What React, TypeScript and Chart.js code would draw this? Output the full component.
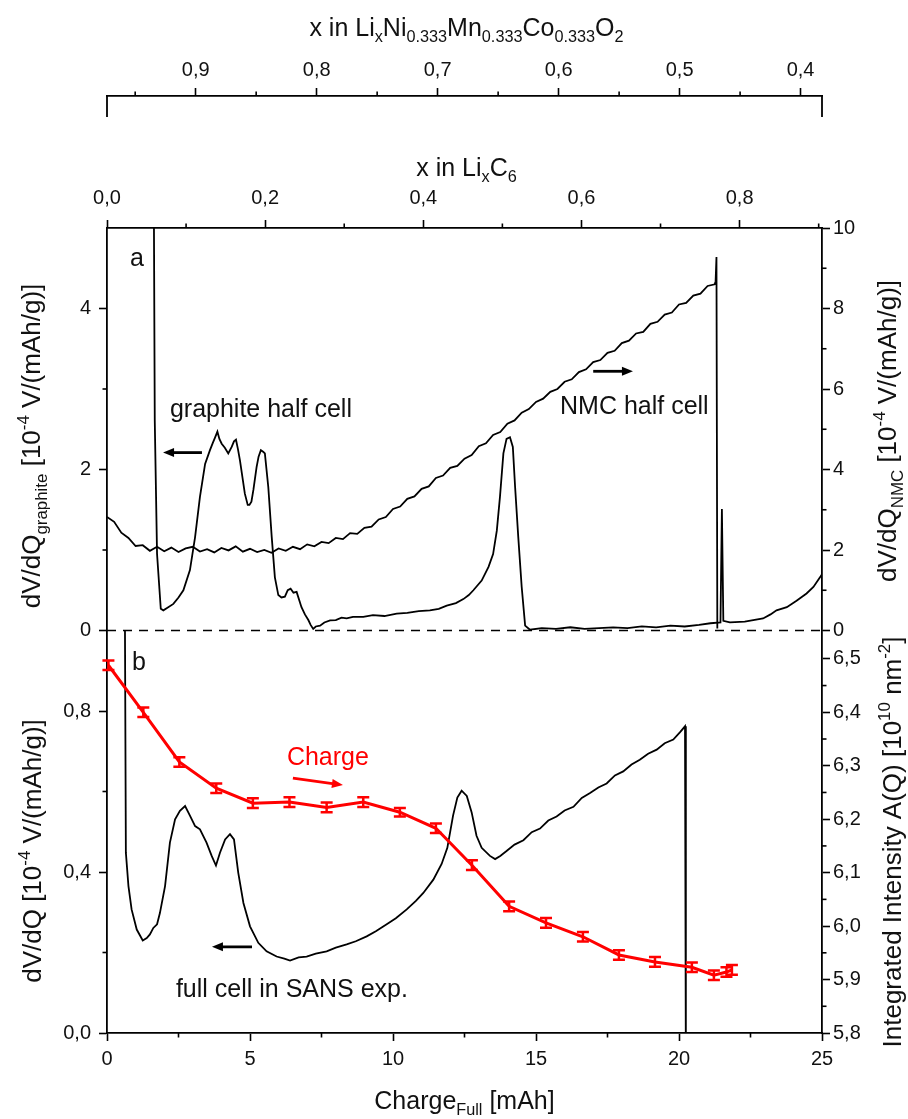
import React, { useEffect, useRef } from 'react';
import { Chart, registerables } from 'chart.js';

Chart.register(...registerables);

const FONT = '"Liberation Sans", Arial, Helvetica, sans-serif';

// ---------------- axis ticks ----------------
const chargeTicks = [0, 2.5, 5, 7.5, 10, 12.5, 15, 17.5, 20, 22.5, 25];
const chargeMajor = [0, 5, 10, 15, 20, 25];
const licTicks = [0, 0.1, 0.2, 0.3, 0.4, 0.5, 0.6, 0.7, 0.8, 0.9];
const licMajor = [0, 0.2, 0.4, 0.6, 0.8];
const nmcXTicks = [0.4, 0.45, 0.5, 0.55, 0.6, 0.65, 0.7, 0.75, 0.8, 0.85, 0.9, 0.95];
const nmcXMajor = [0.4, 0.5, 0.6, 0.7, 0.8, 0.9];
const graphiteTicks = [0, 1, 2, 3, 4];
const graphiteMajor = [0, 2, 4];
const nmcYTicks = [0, 1, 2, 3, 4, 5, 6, 7, 8, 9, 10];
const nmcYMajor = [0, 2, 4, 6, 8, 10];
const fullTicks = [0, 0.2, 0.4, 0.6, 0.8];
const fullMajor = [0, 0.4, 0.8];
const intTicks = [5.8, 5.85, 5.9, 5.95, 6.0, 6.05, 6.1, 6.15, 6.2, 6.25, 6.3, 6.35, 6.4, 6.45, 6.5];
const intMajor = [5.8, 5.9, 6.0, 6.1, 6.2, 6.3, 6.4, 6.5];

// ---------------- axis ranges ----------------
const chargeRange = [0, 25];
const licRange = [0, 0.9042];
const nmcXRange = [0.3823, 0.9733];
const graphiteRange = [0, 5];
const nmcYRange = [0, 10];
const fullRange = [0, 1];
const intRange = [5.8, 6.553];

// ---------------- series (charge [mAh], value) ----------------
const graphiteCurve: [number, number][] = [
  [1.56, 12], [1.67, 2.61], [1.75, 0.95], [1.88, 0.27], [1.97, 0.25], [2.1, 0.28], [2.32, 0.33],
  [2.5, 0.41], [2.67, 0.5], [2.9, 0.75], [3.08, 1.16], [3.25, 1.66], [3.43, 2.07], [3.6, 2.24],
  [3.7, 2.33], [3.78, 2.4], [3.86, 2.47], [3.93, 2.38], [4.01, 2.32], [4.12, 2.27], [4.24, 2.2],
  [4.36, 2.28], [4.44, 2.35], [4.51, 2.37], [4.58, 2.25], [4.65, 2.11], [4.82, 1.7], [4.92, 1.56],
  [4.98, 1.56], [5.05, 1.6], [5.12, 1.75], [5.23, 2.03], [5.3, 2.16], [5.38, 2.24], [5.46, 2.22],
  [5.52, 2.2], [5.64, 1.78], [5.76, 1.16], [5.87, 0.66], [5.99, 0.44], [6.1, 0.41], [6.22, 0.42],
  [6.32, 0.5], [6.42, 0.52], [6.52, 0.47], [6.63, 0.48], [6.8, 0.29], [6.92, 0.2], [7.04, 0.13],
  [7.12, 0.07], [7.21, 0.02], [7.3, 0.05], [7.45, 0.06], [7.6, 0.1], [7.8, 0.125], [8.0, 0.13],
  [8.2, 0.16], [8.38, 0.15], [8.6, 0.17], [8.96, 0.17], [9.3, 0.19], [9.7, 0.18], [10.13, 0.21],
  [10.5, 0.22], [10.9, 0.24], [11.29, 0.25], [11.6, 0.27], [11.88, 0.31], [12.2, 0.34],
  [12.46, 0.39], [12.65, 0.44], [12.81, 0.5], [13.1, 0.62], [13.34, 0.79], [13.5, 0.95],
  [13.63, 1.24], [13.74, 1.66], [13.86, 2.2], [13.97, 2.38], [14.09, 2.4], [14.19, 2.28],
  [14.27, 1.78], [14.38, 1.16], [14.5, 0.54], [14.62, 0.06], [14.79, 0.01], [15.2, 0.03],
  [15.7, 0.02], [16.2, 0.04], [16.7, 0.02], [17.2, 0.03], [17.7, 0.04], [18.2, 0.03], [18.7, 0.05],
  [19.2, 0.04], [19.7, 0.06], [20.2, 0.05], [20.7, 0.07], [21.1, 0.09], [21.45, 0.1], [21.5, 1.51],
  [21.55, 0.12], [21.78, 0.1], [22.3, 0.11], [22.94, 0.15], [23.2, 0.2], [23.41, 0.25],
  [23.77, 0.29], [24.11, 0.37], [24.46, 0.46], [24.7, 0.54], [24.93, 0.66], [25.0, 0.7],
];

const nmcCurve: [number, number][] = [
  [0, 2.82], [0.25, 2.7], [0.5, 2.43], [0.75, 2.3], [1.0, 2.1], [1.25, 2.12], [1.5, 1.98],
  [1.75, 2.08], [2.0, 1.97], [2.25, 2.06], [2.5, 1.95], [2.75, 2.04], [3.0, 2.08], [3.25, 1.96],
  [3.5, 2.02], [3.75, 1.94], [4.0, 2.05], [4.25, 1.99], [4.5, 2.09], [4.75, 1.96], [5.0, 2.03],
  [5.25, 1.95], [5.5, 2.0], [5.75, 1.93], [6.0, 2.04], [6.25, 1.98], [6.5, 2.08], [6.75, 2.02],
  [7.0, 2.14], [7.25, 2.09], [7.5, 2.2], [7.75, 2.17], [8.0, 2.3], [8.25, 2.27], [8.5, 2.42],
  [8.75, 2.4], [9.0, 2.55], [9.25, 2.58], [9.5, 2.76], [9.75, 2.82], [10.0, 3.02], [10.25, 3.08],
  [10.5, 3.27], [10.75, 3.33], [11.0, 3.52], [11.25, 3.58], [11.5, 3.79], [11.75, 3.85],
  [12.0, 4.04], [12.25, 4.09], [12.5, 4.27], [12.75, 4.36], [13.0, 4.58], [13.25, 4.65],
  [13.5, 4.86], [13.75, 4.93], [14.0, 5.14], [14.25, 5.22], [14.5, 5.41], [14.75, 5.5],
  [15.0, 5.68], [15.25, 5.76], [15.5, 5.93], [15.75, 6.0], [16.0, 6.18], [16.25, 6.24],
  [16.5, 6.42], [16.75, 6.49], [17.0, 6.67], [17.25, 6.72], [17.5, 6.9], [17.75, 6.95],
  [18.0, 7.14], [18.25, 7.2], [18.5, 7.38], [18.75, 7.42], [19.0, 7.62], [19.25, 7.67],
  [19.5, 7.85], [19.75, 7.9], [20.0, 8.1], [20.25, 8.14], [20.5, 8.32], [20.75, 8.37],
  [21.0, 8.56], [21.25, 8.6], [21.28, 8.68], [21.31, 9.28], [21.34, 0.05],
];

const fullCellCurve: [number, number][] = [
  [0.6, 1.5], [0.66, 0.448], [0.75, 0.365], [0.86, 0.307], [1.04, 0.257], [1.25, 0.23],
  [1.39, 0.236], [1.5, 0.245], [1.62, 0.261], [1.75, 0.27], [1.85, 0.298], [2.03, 0.365],
  [2.2, 0.473], [2.38, 0.531], [2.55, 0.552], [2.73, 0.564], [2.9, 0.54], [3.08, 0.514],
  [3.25, 0.506], [3.48, 0.473], [3.66, 0.44], [3.81, 0.416], [3.95, 0.448], [4.13, 0.481],
  [4.3, 0.494], [4.44, 0.481], [4.59, 0.398], [4.77, 0.323], [5.0, 0.265], [5.29, 0.224],
  [5.58, 0.203], [5.93, 0.19], [6.2, 0.185], [6.4, 0.18], [6.7, 0.188], [6.98, 0.19],
  [7.3, 0.197], [7.68, 0.203], [8.0, 0.212], [8.38, 0.22], [8.7, 0.228], [9.08, 0.24],
  [9.4, 0.253], [9.78, 0.27], [10.1, 0.285], [10.48, 0.307], [10.8, 0.328], [11.06, 0.348],
  [11.41, 0.381], [11.7, 0.42], [11.9, 0.46], [12.1, 0.54], [12.25, 0.585], [12.4, 0.602],
  [12.58, 0.589], [12.75, 0.548], [12.92, 0.49], [13.1, 0.46], [13.39, 0.44], [13.57, 0.432],
  [13.75, 0.44], [13.97, 0.452], [14.25, 0.468], [14.56, 0.479], [14.85, 0.499], [15.14, 0.508],
  [15.43, 0.528], [15.72, 0.538], [16.0, 0.553], [16.31, 0.562], [16.6, 0.584], [16.89, 0.596],
  [17.18, 0.61], [17.47, 0.62], [17.76, 0.64], [18.05, 0.65], [18.34, 0.667], [18.63, 0.679],
  [18.92, 0.694], [19.22, 0.704], [19.5, 0.72], [19.8, 0.729], [20.03, 0.747], [20.21, 0.762],
  [20.24, -0.1],
];

const intensityQ = [0.05, 1.27, 2.53, 3.82, 5.1, 6.38, 7.68, 8.96, 10.24, 11.5, 12.76, 14.06, 15.35, 16.64, 17.9, 19.16, 20.45, 21.22, 21.66, 21.85];
const intensityA = [6.488, 6.4, 6.307, 6.258, 6.23, 6.232, 6.222, 6.232, 6.213, 6.183, 6.114, 6.037, 6.006, 5.98, 5.946, 5.933, 5.923, 5.908, 5.914, 5.918];
const intensityErr = [0.009, 0.009, 0.009, 0.009, 0.009, 0.009, 0.009, 0.009, 0.008, 0.009, 0.009, 0.009, 0.009, 0.009, 0.009, 0.009, 0.009, 0.009, 0.009, 0.009];

const zeroLine: [number, number][] = [[0, 0], [25, 0]];

// ---------------- helpers ----------------
const isIn = (arr: number[], v: number) => arr.some((m) => Math.abs(m - v) < 1e-6);
const fmtInt = (v: number) => String(Math.round(v));
const fmtDec = (v: number) => v.toFixed(1).replace('.', ',');
const toXY = (arr: [number, number][]) => arr.map(([x, y]) => ({ x, y }));

type Seg = [string, number?]; // 0 normal, 1 subscript, 2 superscript

function drawRich(ctx: CanvasRenderingContext2D, segs: Seg[], x: number, y: number, size: number, rot: number, color: string, align: string) {
  ctx.save();
  ctx.translate(x, y);
  if (rot) ctx.rotate(rot);
  ctx.fillStyle = color;
  ctx.textBaseline = 'alphabetic';
  ctx.textAlign = 'left';
  const ws = segs.map(([t, k]) => {
    ctx.font = `${k ? size * 0.65 : size}px ${FONT}`;
    return ctx.measureText(t).width;
  });
  const total = ws.reduce((a, b) => a + b, 0);
  let cx = align === 'center' ? -total / 2 : align === 'right' ? -total : 0;
  const base = size * 0.36;
  segs.forEach(([t, k], i) => {
    ctx.font = `${k ? size * 0.65 : size}px ${FONT}`;
    const dy = k === 1 ? size * 0.24 : k === 2 ? -size * 0.42 : 0;
    ctx.fillText(t, cx, base + dy);
    cx += ws[i];
  });
  ctx.restore();
}

function drawArrow(ctx: CanvasRenderingContext2D, x1: number, y1: number, x2: number, y2: number, color: string) {
  const ang = Math.atan2(y2 - y1, x2 - x1);
  const hl = 11, hw = 4.5;
  ctx.save();
  ctx.strokeStyle = color;
  ctx.fillStyle = color;
  ctx.lineWidth = 2.8;
  ctx.beginPath();
  ctx.moveTo(x1, y1);
  ctx.lineTo(x2 - Math.cos(ang) * hl * 0.8, y2 - Math.sin(ang) * hl * 0.8);
  ctx.stroke();
  ctx.beginPath();
  ctx.moveTo(x2, y2);
  ctx.lineTo(x2 - Math.cos(ang) * hl + Math.sin(ang) * hw, y2 - Math.sin(ang) * hl - Math.cos(ang) * hw);
  ctx.lineTo(x2 - Math.cos(ang) * hl - Math.sin(ang) * hw, y2 - Math.sin(ang) * hl + Math.cos(ang) * hw);
  ctx.closePath();
  ctx.fill();
  ctx.restore();
}

const axisMeta: Record<string, { ticks: number[]; majors: number[] }> = {
  x: { ticks: chargeTicks, majors: chargeMajor },
  xL: { ticks: licTicks, majors: licMajor },
  xN: { ticks: nmcXTicks, majors: nmcXMajor },
  yG: { ticks: graphiteTicks, majors: graphiteMajor },
  yF: { ticks: fullTicks, majors: fullMajor },
  yN: { ticks: nmcYTicks, majors: nmcYMajor },
  yI: { ticks: intTicks, majors: intMajor },
};

function makeAxis(id: string, position: string, range: number[], fmt: (v: number) => string, size: number, pad: number, extra: any) {
  const { ticks, majors } = axisMeta[id];
  const horizontal = position === 'top' || position === 'bottom';
  return {
    type: 'linear',
    position,
    min: range[0],
    max: range[1],
    ...extra,
    afterBuildTicks: (s: any) => {
      s.ticks = ticks.map((v) => ({ value: v }));
    },
    afterFit: (s: any) => {
      if (horizontal) s.height = size;
      else s.width = size;
    },
    ticks: {
      autoSkip: false,
      maxRotation: 0,
      minRotation: 0,
      padding: pad,
      color: '#111',
      font: { family: FONT, size: 20 },
      callback: (v: number) => (isIn(majors, v) ? fmt(v) : ''),
    },
    grid: {
      display: true,
      drawOnChartArea: false,
      drawTicks: true,
      tickLength: 8,
      tickWidth: 1.6,
      tickColor: (c: any) => (c.tick && isIn(majors, c.tick.value) ? '#000' : 'rgba(0,0,0,0)'),
    },
    border: { display: true, color: '#000', width: 1.8 },
  };
}

const decorPlugin = {
  id: 'decor',
  afterDraw(chart: any) {
    const ctx: CanvasRenderingContext2D = chart.ctx;
    const s = chart.scales;
    const ca = chart.chartArea;
    ctx.save();

    // minor ticks
    ctx.strokeStyle = '#000';
    ctx.lineWidth = 1.6;
    Object.keys(axisMeta).forEach((id) => {
      const sc = s[id];
      if (!sc) return;
      const { ticks, majors } = axisMeta[id];
      ticks.forEach((v) => {
        if (isIn(majors, v)) return;
        const p = sc.getPixelForValue(v);
        ctx.beginPath();
        const pos = sc.options.position;
        if (pos === 'bottom') { ctx.moveTo(p, sc.top); ctx.lineTo(p, sc.top + 4.5); }
        else if (pos === 'top') { ctx.moveTo(p, sc.bottom); ctx.lineTo(p, sc.bottom - 4.5); }
        else if (pos === 'left') { ctx.moveTo(sc.right, p); ctx.lineTo(sc.right - 4.5, p); }
        else { ctx.moveTo(sc.left, p); ctx.lineTo(sc.left + 4.5, p); }
        ctx.stroke();
      });
    });

    // end bars of the NMC composition axis
    const nb = s.xN.bottom;
    ctx.lineWidth = 1.8;
    ctx.beginPath();
    ctx.moveTo(ca.left, nb); ctx.lineTo(ca.left, nb + 21);
    ctx.moveTo(ca.right, nb); ctx.lineTo(ca.right, nb + 21);
    ctx.stroke();

    // error bars
    const x = s.x, yI = s.yI, yG = s.yG, yF = s.yF, yN = s.yN;
    ctx.strokeStyle = '#ff0000';
    ctx.lineWidth = 2.5;
    intensityQ.forEach((q, i) => {
      const px = x.getPixelForValue(q);
      const y1 = yI.getPixelForValue(intensityA[i] - intensityErr[i]);
      const y2 = yI.getPixelForValue(intensityA[i] + intensityErr[i]);
      ctx.beginPath();
      ctx.moveTo(px, y1); ctx.lineTo(px, y2);
      ctx.moveTo(px - 6, y1); ctx.lineTo(px + 6, y1);
      ctx.moveTo(px - 6, y2); ctx.lineTo(px + 6, y2);
      ctx.stroke();
    });

    // axis titles
    const cx = (ca.left + ca.right) / 2;
    drawRich(ctx, [['x in Li'], ['x', 1], ['Ni'], ['0.333', 1], ['Mn'], ['0.333', 1], ['Co'], ['0.333', 1], ['O'], ['2', 1]], cx + 2, 27, 25, 0, '#111', 'center');
    drawRich(ctx, [['x in Li'], ['x', 1], ['C'], ['6', 1]], cx + 2, 167, 25, 0, '#111', 'center');
    drawRich(ctx, [['Charge'], ['Full', 1], [' [mAh]']], cx, 1100, 25, 0, '#111', 'center');
    drawRich(ctx, [['dV/dQ'], ['graphite', 1], [' [10'], ['-4', 2], [' V/(mAh/g)]']], 31, 446, 26, -Math.PI / 2, '#111', 'center');
    drawRich(ctx, [['dV/dQ'], ['NMC', 1], [' [10'], ['-4', 2], [' V/(mAh/g)]']], 887, 431, 26, -Math.PI / 2, '#111', 'center');
    drawRich(ctx, [['dV/dQ [10'], ['-4', 2], [' V/(mAh/g)]']], 32, 851, 26, -Math.PI / 2, '#111', 'center');
    drawRich(ctx, [['Integrated Intensity A(Q) [10'], ['10', 2], [' nm'], ['-2', 2], [']']], 892, 842, 26, -Math.PI / 2, '#111', 'center');

    // panel annotations
    drawRich(ctx, [['a']], x.getPixelForValue(0.8), yG.getPixelForValue(4.64), 25, 0, '#111', 'left');
    drawRich(ctx, [['b']], x.getPixelForValue(0.87), yF.getPixelForValue(0.925), 25, 0, '#111', 'left');
    drawRich(ctx, [['graphite half cell']], x.getPixelForValue(2.2), yG.getPixelForValue(2.76), 25, 0, '#111', 'left');
    drawArrow(ctx, x.getPixelForValue(3.32), yG.getPixelForValue(2.21), x.getPixelForValue(1.96), yG.getPixelForValue(2.21), '#000');
    drawRich(ctx, [['NMC half cell']], x.getPixelForValue(15.84), yN.getPixelForValue(5.6), 25, 0, '#111', 'left');
    drawArrow(ctx, x.getPixelForValue(17.0), yN.getPixelForValue(6.44), x.getPixelForValue(18.39), yN.getPixelForValue(6.44), '#000');
    drawRich(ctx, [['Charge']], x.getPixelForValue(6.29), yF.getPixelForValue(0.688), 25, 0, '#ff0000', 'left');
    drawArrow(ctx, x.getPixelForValue(6.5), yF.getPixelForValue(0.633), x.getPixelForValue(8.25), yF.getPixelForValue(0.616), '#ff0000');
    drawRich(ctx, [['full cell in SANS exp.']], x.getPixelForValue(2.41), yF.getPixelForValue(0.112), 25, 0, '#111', 'left');
    drawArrow(ctx, x.getPixelForValue(5.07), yF.getPixelForValue(0.214), x.getPixelForValue(3.67), yF.getPixelForValue(0.214), '#000');

    ctx.restore();
  },
};

export default function App() {
  const ref = useRef<HTMLCanvasElement>(null);
  useEffect(() => {
    const canvas = ref.current;
    if (!canvas) return;
    const lineBase = { fill: false, tension: 0, pointRadius: 0, borderColor: '#000', borderWidth: 1.8, xAxisID: 'x' };
    const chart = new Chart(canvas, {
      type: 'line',
      data: {
        datasets: [
          {
            ...lineBase,
            label: 'Integrated intensity',
            data: intensityQ.map((q, i) => ({ x: q, y: intensityA[i] })),
            yAxisID: 'yI',
            borderColor: '#ff0000',
            borderWidth: 3,
          },
          { ...lineBase, label: 'full cell', data: toXY(fullCellCurve), yAxisID: 'yF' },
          { ...lineBase, label: 'graphite half cell', data: toXY(graphiteCurve), yAxisID: 'yG' },
          { ...lineBase, label: 'NMC half cell', data: toXY(nmcCurve), yAxisID: 'yN' },
          { ...lineBase, label: 'zero', data: toXY(zeroLine), yAxisID: 'yG', borderDash: [9, 7], borderWidth: 1.6, clip: 4 },
        ] as any,
      },
      options: {
        responsive: false,
        animation: false,
        devicePixelRatio: 1,
        events: [],
        layout: { padding: 0 },
        plugins: { legend: { display: false }, tooltip: { enabled: false } },
        elements: { point: { radius: 0 } },
        scales: {
          x: makeAxis('x', 'bottom', chargeRange, fmtInt, 86, 6, {}),
          xL: makeAxis('xL', 'top', licRange, fmtDec, 132, 10, { weight: 1 }),
          xN: makeAxis('xN', 'top', nmcXRange, fmtDec, 96, 6, { weight: 2, reverse: true }),
          yG: makeAxis('yG', 'left', graphiteRange, fmtInt, 107, 8, { weight: 2, stack: 'panels', stackWeight: 1 }),
          yF: makeAxis('yF', 'left', fullRange, fmtDec, 107, 8, { weight: 1, stack: 'panels', stackWeight: 1 }),
          yN: makeAxis('yN', 'right', nmcYRange, fmtInt, 86, 3, { weight: 1, stack: 'panels', stackWeight: 1 }),
          yI: makeAxis('yI', 'right', intRange, fmtDec, 86, 3, { weight: 2, stack: 'panels', stackWeight: 1 }),
        } as any,
      },
      plugins: [decorPlugin],
    } as any);
    return () => chart.destroy();
  }, []);
  return (
    <div style={{ position: 'absolute', left: 0, top: 0, width: 908, height: 1119, background: '#fff' }}>
      <canvas ref={ref} width={908} height={1119} style={{ display: 'block', width: 908, height: 1119 }} />
    </div>
  );
}
